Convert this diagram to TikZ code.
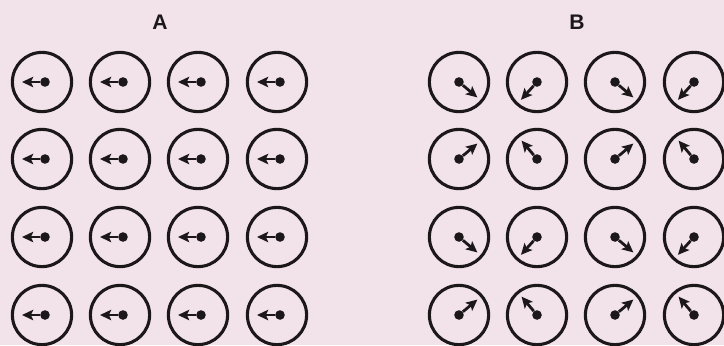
\documentclass[tikz,border=0pt]{standalone}
\usepackage{fontspec}
\setsansfont{Liberation Sans}
\usetikzlibrary{arrows.meta}
\definecolor{PaleRose}{RGB}{242,226,234}
\definecolor{InkBlack}{RGB}{28,24,26}
\tikzset{
  dial/.style={circle,draw=InkBlack,line width=2.2pt,minimum size=1.48cm,inner sep=0pt},
  pivot/.style={circle,fill=InkBlack,minimum size=0.24cm,inner sep=0pt},
  spin/.style={-{Stealth[length=2.8mm,width=2.6mm,inset=0.6mm]},line width=2pt,draw=InkBlack},
  panel/.style={font=\sffamily\bfseries\fontsize{15}{18}\selectfont,text=InkBlack}
}

\begin{document}
\begin{tikzpicture}[x=0.025cm,y=-0.025cm]
  \fill[PaleRose] (0,0) rectangle (724,345);
  \useasboundingbox (0,0) rectangle (724,345);
  \node[panel] (labA) at (160,22) {A};
  \node[panel] (labB) at (577,22) {B};
  % A: all spins point the same way
  \foreach \r/\y in {1/82,2/159,3/237,4/315}
    \foreach \c/\x in {1/42,2/120,3/198,4/277} {
      \node[dial] (a\r\c) at (\x,\y) {};
      \node[pivot] (pa\r\c) at (\x+3,\y) {};
      \coordinate (ta\r\c) at (\x-20,\y);
      \draw[spin] (pa\r\c) -- (ta\r\c);
    }
  % B: spins alternate between neighbours
  \foreach \r/\y/\angA/\angB in {1/82/-40/-132,2/159/40/130,3/237/-40/-132,4/315/40/130}
    \foreach \c/\x/\k in {1/459/0,2/537/1,3/615/0,4/694/1} {
      \pgfmathsetmacro{\ang}{\k==0 ? \angA : \angB}
      \node[dial] (b\r\c) at (\x,\y) {};
      \node[pivot] (pb\r\c) at (\x,\y) {};
      \coordinate (tb\r\c) at ([shift={(\ang:0.6cm)}]pb\r\c.center);
      \draw[spin] (pb\r\c) -- (tb\r\c);
    }
\end{tikzpicture}
\end{document}
